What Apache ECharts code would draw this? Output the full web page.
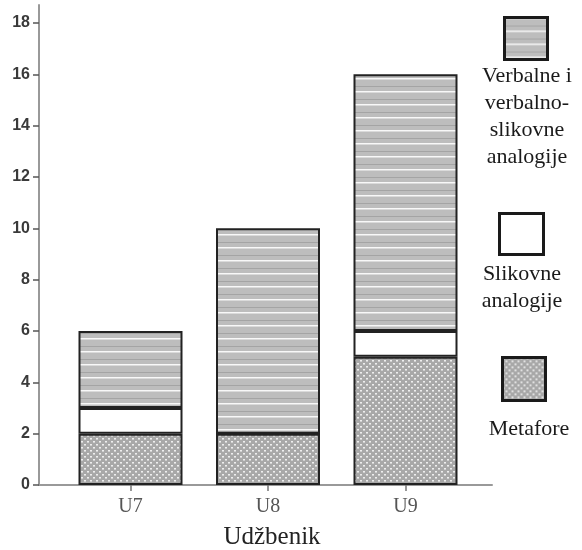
<!DOCTYPE html>
<html>
<head>
<meta charset="utf-8">
<script src="https://cdn.jsdelivr.net/npm/echarts@6/dist/echarts.min.js"></script>
<style>html,body{margin:0;padding:0;background:#fff;}#c{width:582px;height:550px;}</style>
</head>
<body>
<div id="c"></div>
<script>
const categories = ['U7', 'U8', 'U9'];
const seriesNames = ['Metafore', 'Slikovne analogije', 'Verbalne i verbalno-slikovne analogije'];
const metafore = [2, 2, 5];
const slikovne = [1, 0, 1];
const verbalne = [3, 8, 10];
const yTickValues = [0, 2, 4, 6, 8, 10, 12, 14, 16, 18];
const legendLabels = ['Metafore', 'Slikovne\nanalogije', 'Verbalne i\nverbalno-\nslikovne\nanalogije'];
const xAxisName = 'Udžbenik';

function stripePattern() {
  const c = document.createElement('canvas');
  c.width = 8; c.height = 13;
  const g = c.getContext('2d');
  g.fillStyle = '#bdbdbd'; g.fillRect(0, 0, 8, 13);
  g.fillStyle = '#f8f8f8'; g.fillRect(0, 0, 8, 1);
  g.fillStyle = '#dadada'; g.fillRect(0, 1, 8, 1);
  g.fillStyle = '#a4a4a4'; g.fillRect(0, 8, 8, 1);
  return c;
}
function dotPattern() {
  const c = document.createElement('canvas');
  c.width = 6; c.height = 6;
  const g = c.getContext('2d');
  g.fillStyle = '#a8a8a8'; g.fillRect(0, 0, 6, 6);
  g.fillStyle = '#eeeeee';
  g.fillRect(0, 0, 2, 1); g.fillRect(3, 3, 2, 1);
  g.fillStyle = '#d0d0d0';
  g.fillRect(0, 1, 2, 1); g.fillRect(3, 4, 2, 1);
  return c;
}
const stripes = { image: stripePattern(), repeat: 'repeat' };
const dots = { image: dotPattern(), repeat: 'repeat' };
const fills = [dots, '#ffffff', stripes];
const seriesData = [metafore, slikovne, verbalne];

const chart = echarts.init(document.getElementById('c'), null, { renderer: 'canvas' });
const serif = '"Liberation Serif", "DejaVu Serif", serif';

const legendBoxes = [
  { x: 501, y: 356, w: 43, h: 43, tx: 529, ty: 416 },
  { x: 498, y: 212, w: 44, h: 41, tx: 522, ty: 261 },
  { x: 503, y: 16, w: 43, h: 42, tx: 527, ty: 63 }
];
const graphic = [];
legendBoxes.forEach((b, i) => {
  graphic.push({
    type: 'rect', left: b.x, top: b.y,
    shape: { width: b.w, height: b.h },
    style: { fill: fills[i], stroke: '#1a1a1a', lineWidth: 3 }
  });
  graphic.push({
    type: 'text', x: b.tx, y: b.ty,
    style: {
      text: legendLabels[i], textAlign: 'center', textVerticalAlign: 'top',
      fontFamily: serif, fontSize: 22, lineHeight: 27, fill: '#1a1a1a'
    }
  });
});

chart.setOption({
  animation: false,
  backgroundColor: '#fff',
  grid: [
    { left: 61.75, right: 107.75, top: 5, bottom: 65, containLabel: false, outerBoundsMode: 'none' },
    { left: 39, right: 90, top: 5, bottom: 65, containLabel: false, outerBoundsMode: 'none' }
  ],
  xAxis: [{
    type: 'category', data: categories, gridIndex: 0,
    axisLine: { show: false },
    axisTick: { show: true, alignWithLabel: true, length: 6, lineStyle: { color: '#777', width: 1.5 } },
    axisLabel: { margin: 12, fontFamily: serif, fontSize: 20, color: '#555' },
    name: xAxisName, nameLocation: 'middle', nameGap: 40,
    nameTextStyle: { fontFamily: serif, fontSize: 25, color: '#222', padding: [0, 0, 0, 8] }
  }, {
    type: 'value', gridIndex: 1, min: 0, max: 1,
    splitLine: { show: false },
    axisLine: { show: true, lineStyle: { color: '#999', width: 2 } },
    axisTick: { show: false }, axisLabel: { show: false }
  }],
  yAxis: [{
    type: 'value', gridIndex: 0, min: 0, max: 18.7, offset: 22.75,
    splitLine: { show: false },
    axisLine: { show: true, lineStyle: { color: '#999', width: 2 } },
    axisTick: { show: true, customValues: yTickValues, length: 6, lineStyle: { color: '#555', width: 1.5 } },
    axisLabel: {
      customValues: yTickValues, margin: 9, fontWeight: 'bold',
      fontFamily: '"Liberation Sans", Arial, sans-serif', fontSize: 16, color: '#3a3a3a'
    }
  }, {
    type: 'value', gridIndex: 1, min: 0, max: 1, show: false
  }],
  series: seriesNames.map((name, s) => ({
    name: name, type: 'bar', stack: 'total', barWidth: 104,
    xAxisIndex: 0, yAxisIndex: 0,
    itemStyle: { color: fills[s], borderColor: '#222', borderWidth: 2 },
    data: seriesData[s]
  })),
  graphic: graphic
});
</script>
</body>
</html>
